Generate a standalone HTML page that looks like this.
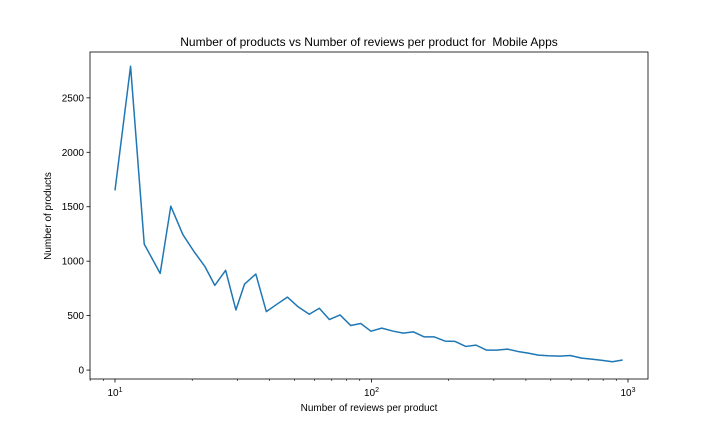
<!DOCTYPE html>
<html><head><meta charset="utf-8"><style>
body{margin:0;background:#fff;}
svg text{font-family:"Liberation Sans","DejaVu Sans",sans-serif;fill:#000;}
</style></head><body>
<svg id="chart" width="720" height="432" viewBox="0 0 720 432" xmlns="http://www.w3.org/2000/svg">
<rect width="720" height="432" fill="#fff"/>
<text x="369" y="46" font-size="12" text-anchor="middle" style="white-space:pre" xml:space="preserve">Number of products vs Number of reviews per product for  Mobile Apps</text>
<text x="369" y="411" font-size="10" text-anchor="middle">Number of reviews per product</text>
<text transform="translate(51,216) rotate(-90)" font-size="10" text-anchor="middle">Number of products</text>
<g id="ticks"></g>
<g id="series"></g>
<rect x="90" y="52" width="558" height="327" fill="none" stroke="#000" stroke-width="0.8"/>
</svg>
<script>
const reviewCounts = [10,11.5,13,15,16.5,18.4,20.3,22.4,24.5,27,29.6,32,35.4,38.9,42.8,47,51.8,57.2,62.6,68.5,75.4,83,90.8,99.5,109.6,121.6,133,145.5,160.2,175.3,193.5,211.7,233,255.6,281,307.6,339.6,372,408,447,489,543,596,659,721,794,869,953];
const productCounts = [1650,2790,1157,888,1505,1243,1090,952,778,916,552,790,882,537,605,670,580,513,568,464,506,409,428,357,385,357,339,351,305,305,266,263,217,229,183,183,192,171,156,137,131,128,134,110,101,89,76,92];
const yTicks = [0,500,1000,1500,2000,2500];
const xMajor = [10,100,1000];
const xMajorLabels = ["1","2","3"];
const xMinor = [8,9,20,30,40,50,60,70,80,90,200,300,400,500,600,700,800,900];

const L=90,R=648,T=52,B=379;
const lxMin=1-25/256.5, lxMax=1+533/256.5;
const yMin=-82, yMax=2921;
const xs=v=>L+(Math.log10(v)-lxMin)/(lxMax-lxMin)*(R-L);
const ys=v=>B-(v-yMin)/(yMax-yMin)*(B-T);
const NS="http://www.w3.org/2000/svg";
const tg=document.getElementById('ticks');
function mk(tag,attrs,parent){const e=document.createElementNS(NS,tag);for(const k in attrs)e.setAttribute(k,attrs[k]);parent.appendChild(e);return e;}

yTicks.forEach(v=>{
  const y=ys(v);
  const t=mk('line',{x1:L-3.5,x2:L,y1:y,y2:y,stroke:'#000','stroke-width':0.8},tg);
  
  
  const lb=mk('text',{x:L-6,y:y+3.5,'font-size':10,'text-anchor':'end'},tg);
  lb.textContent=v;
  
  
});
xMajor.forEach((v,i)=>{
  const x=xs(v);
  const t=mk('line',{x1:x,x2:x,y1:B,y2:B+3.5,stroke:'#000','stroke-width':0.8},tg);
  
  
  const lb=mk('text',{x:x,y:B+17,'font-size':10,'text-anchor':'middle'},tg);
  
  
  const a=mk('tspan',{},lb);a.textContent='10';
  const b=mk('tspan',{dy:-4,'font-size':7},lb);b.textContent=xMajorLabels[i];
});
xMinor.forEach(v=>{
  const x=xs(v);
  const t=mk('line',{x1:x,x2:x,y1:B,y2:B+2,stroke:'#000','stroke-width':0.6},tg);
  
  
});
const sg=document.getElementById('series');
const pts=reviewCounts.map((v,i)=>xs(v).toFixed(2)+','+ys(productCounts[i]).toFixed(2)).join(' ');
const pl=mk('polyline',{points:pts,fill:'none',stroke:'#1f77b4','stroke-width':1.5,'stroke-linejoin':'round'},sg);


</script>
</body></html>
